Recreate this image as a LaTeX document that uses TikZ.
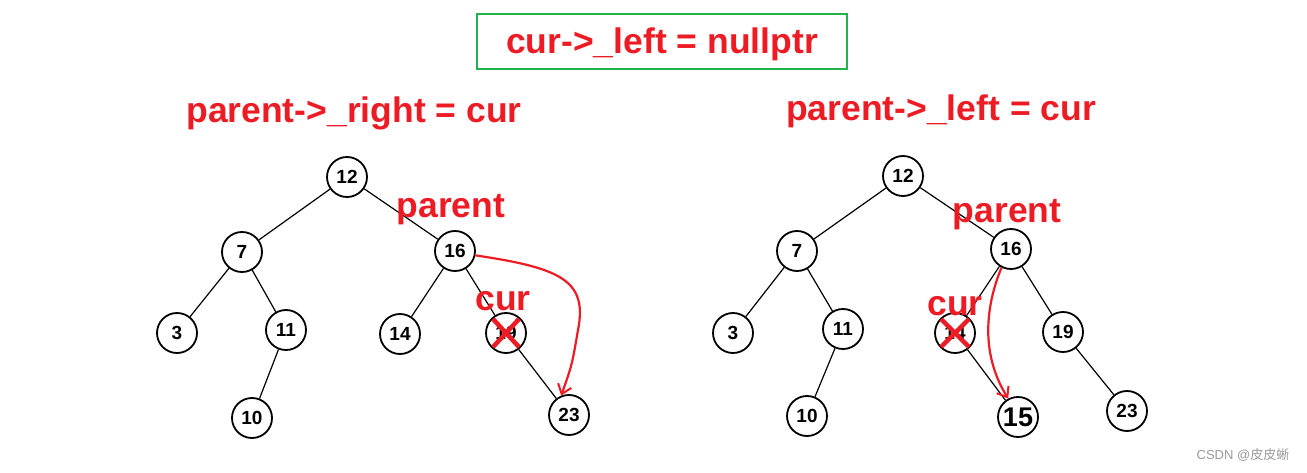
\documentclass[tikz,border=0pt]{standalone}
\usepackage{fontspec}
\setmainfont{Liberation Sans}
\newfontfamily\cjk{Noto Sans CJK SC}
\usetikzlibrary{arrows.meta,calc}
\definecolor{myred}{HTML}{ED1C24}
\definecolor{mygreen}{HTML}{22B14C}
\tikzset{
  tn/.style={circle,draw=black,line width=1.8pt,minimum size=40pt,inner sep=0pt,font=\fontsize{19}{19}\selectfont\bfseries},
  big/.style={tn,font=\fontsize{27}{27}\selectfont\bfseries},
  edge/.style={line width=1.2pt,black},
  lbl/.style={text=myred,font=\fontsize{35.5}{35.5}\selectfont\bfseries,inner sep=0pt,anchor=base},
  xmark/.style={myred,line width=4.5pt},
  arr/.style={myred,line width=2.2pt,-{Straight Barb[length=9pt,width=14pt,line width=2pt]}},
}
\begin{document}
\begin{tikzpicture}[x=1pt,y=-1pt]
\useasboundingbox (0,0) rectangle (1307,473);
% title
\node[draw=mygreen,line width=2.2pt,minimum width=370pt,minimum height=55pt,inner sep=0pt] (title) at (662,41.5) {};
\node[lbl] (titletext) at (662,53.5) {cur->\_left = nullptr};
\node[lbl] (h1) at (354,123) {parent->\_right = cur};
\node[lbl] (h2) at (941,121) {parent->\_left = cur};
% left tree
\node[tn] (a12) at (347,177) {12};
\node[tn] (a7) at (242,252) {7};
\node[tn] (a16) at (455,251) {16};
\node[tn] (a3) at (177,333) {3};
\node[tn] (a11) at (286,330) {11};
\node[tn] (a14) at (400,334) {14};
\node[tn] (a19) at (506,333) {19};
\node[tn] (a10) at (252,418) {10};
\node[tn] (a23) at (569,415) {23};
\draw[edge] (a12) -- (a7);
\draw[edge] (a12) -- (a16);
\draw[edge] (a7) -- (a3);
\draw[edge] (a7) -- (a11);
\draw[edge] (a11) -- (a10);
\draw[edge] (a16) -- (a14);
\draw[edge] (a16) -- (a19);
\draw[edge] (a19) -- (a23);
\draw[xmark] ($(a19)+(-13,-14)$) -- ($(a19)+(13,14)$);
\draw[xmark] ($(a19)+(13,-14)$) -- ($(a19)+(-13,14)$);
\node[lbl] (p1) at (451,218) {parent};
\node[lbl] (c1) at (503,310) {cur};
\draw[arr] (a16.-12) .. controls (560,268) and (588,280) .. (578,330) .. controls (572,365) .. (a23.112);
% right tree
\node[tn] (b12) at (903,176) {12};
\node[tn] (b7) at (797,251) {7};
\node[tn] (b16) at (1011,249) {16};
\node[tn] (b3) at (733,333) {3};
\node[tn] (b11) at (843,329) {11};
\node[tn] (b14) at (955,333) {14};
\node[tn] (b19) at (1063,332) {19};
\node[tn] (b10) at (807,416) {10};
\node[big] (b15) at (1018,417) {15};
\node[tn] (b23) at (1127,411) {23};
\draw[edge] (b12) -- (b7);
\draw[edge] (b12) -- (b16);
\draw[edge] (b7) -- (b3);
\draw[edge] (b7) -- (b11);
\draw[edge] (b11) -- (b10);
\draw[edge] (b16) -- (b14);
\draw[edge] (b16) -- (b19);
\draw[edge] (b14) -- (b15);
\draw[edge] (b19) -- (b23);
\draw[xmark] ($(b14)+(-14,-14)$) -- ($(b14)+(14,14)$);
\draw[xmark] ($(b14)+(14,-14)$) -- ($(b14)+(-14,14)$);
\node[lbl] (p2) at (1007,223) {parent};
\node[lbl] (c2) at (955,315) {cur};
\draw[arr] (b16.243) .. controls (988,300) and (978,350) .. (b15.118);
% watermark
\node[text=black!40,font=\fontsize{13}{13}\selectfont,inner sep=0pt] (wm) at (1243,455) {CSDN @{\cjk 皮皮蜥}};
\end{tikzpicture}
\end{document}
